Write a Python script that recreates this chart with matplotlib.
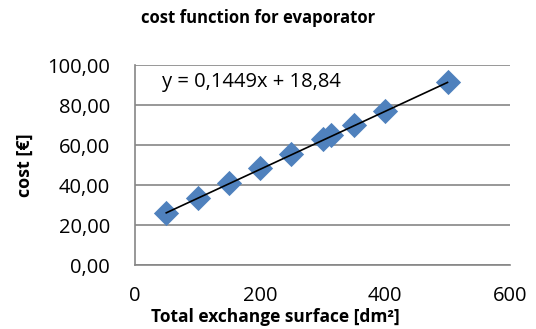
import matplotlib.pyplot as plt
import numpy as np

# Evaporator cost data
surface = [50, 100, 150, 200, 250, 300, 313, 350, 400, 500]
cost = [26.0, 33.3, 40.8, 48.3, 55.5, 62.8, 65.0, 70.0, 77.0, 91.7]

# Linear trendline
slope = 0.1449
intercept = 18.84

y_ticks = [0, 20, 40, 60, 80, 100]
x_ticks = [0, 200, 400, 600]

plt.rcParams['font.family'] = ['Open Sans', 'DejaVu Sans']

fig = plt.figure(figsize=(5.36, 3.29), dpi=100)
ax = fig.add_axes([0.2519, 0.1945, 0.6996, 0.6079])

ax.scatter(surface, cost, marker='D', s=165, color='#4F81BD', zorder=3, linewidths=0)
xs = np.array([min(surface), max(surface)])
ax.plot(xs, slope * xs + intercept, color='black', linewidth=1.2, zorder=4)

ax.set_xlim(0, 600)
ax.set_ylim(0, 100)
ax.set_xticks(x_ticks)
ax.set_yticks(y_ticks)
ax.set_yticklabels([f"{v:.2f}".replace('.', ',') for v in y_ticks])
ax.tick_params(length=0, labelsize=14.5)
ax.tick_params(axis='y', pad=18)
ax.tick_params(axis='x', pad=15)

ax.grid(axis='y', color='#868686', linewidth=1.2)
ax.set_axisbelow(True)
for side in ['top', 'right']:
    ax.spines[side].set_visible(False)
for side in ['left', 'bottom']:
    ax.spines[side].set_color('#868686')
    ax.spines[side].set_linewidth(1.2)

ax.text(43, 91.5, f"y = {slope:.4f}x + {intercept:.2f}".replace('.', ','),
        fontsize=14.5, va='center', ha='left')

fig.text(0.482, 0.945, "cost function for evaporator", fontsize=12,
         fontweight='bold', ha='center', va='center')
fig.text(0.514, 0.036, "Total exchange surface [dm²]", fontsize=12.5,
         fontweight='bold', ha='center', va='center')
fig.text(0.047, 0.498, "cost [€]", fontsize=13, fontweight='bold',
         rotation=90, ha='center', va='center')

fig.savefig('out.png', dpi=100)
